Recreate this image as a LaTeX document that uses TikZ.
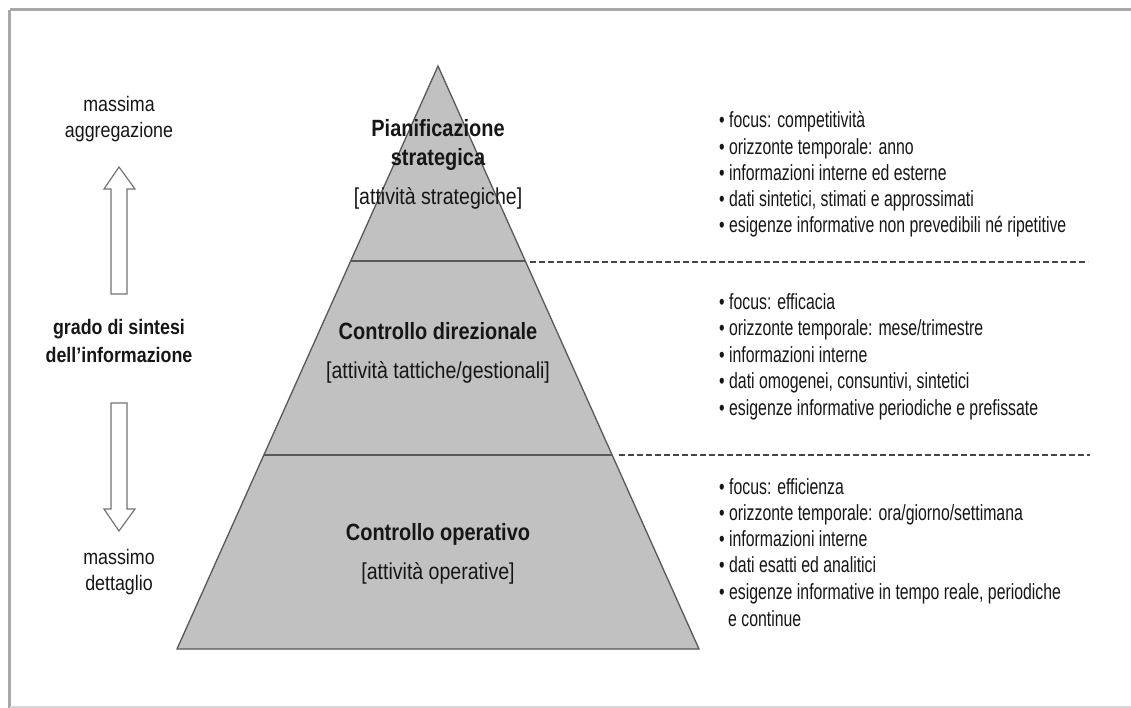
\documentclass[tikz,border=0pt]{standalone}
\usepackage{fontspec}
\setmainfont{Liberation Sans}
\newfontfamily\widefont{Liberation Sans}[FakeStretch=0.85]
\newfontfamily\narrowfont{Liberation Sans}[FakeStretch=0.72]
\definecolor{ink}{RGB}{22,22,22}
\definecolor{framegray}{RGB}{168,168,168}
\definecolor{pyrfill}{RGB}{193,193,193}
\definecolor{pyredge}{RGB}{88,88,88}
\definecolor{dashgray}{RGB}{70,70,70}
\definecolor{arrowedge}{RGB}{115,115,115}

\tikzset{
  levelhead/.style={anchor=base, inner sep=0pt, text=ink, font=\widefont\bfseries\fontsize{23.5}{27}\selectfont},
  levelsub/.style={anchor=base, inner sep=0pt, text=ink, font=\widefont\fontsize{23}{27}\selectfont},
  sidetext/.style={anchor=base, inner sep=0pt, text=ink, font=\widefont\fontsize{21}{25}\selectfont},
  sidebold/.style={sidetext, font=\widefont\bfseries\fontsize{21}{25}\selectfont},
  bulletline/.style={anchor=base west, inner sep=0pt, text=ink, font=\narrowfont\fontsize{22}{26}\selectfont},
  layer/.style={fill=pyrfill, draw=none},
  divider/.style={draw=pyredge, line width=2pt},
  outline/.style={draw=pyredge, line width=1.3pt, line join=miter},
  guide/.style={draw=dashgray, line width=1.1pt, dash pattern=on 6pt off 3pt},
  blockarrow/.style={draw=arrowedge, fill=white, line width=1.2pt, line join=miter},
}

\begin{document}
\begin{tikzpicture}[x=1pt, y=-1pt]
  \useasboundingbox (0,0) rectangle (1131,708);

  % page frame
  \draw[framegray, line width=3pt] (9.5,10) -- (1140,10);
  \draw[framegray, line width=2.2pt] (9.5,10) -- (9.5,710);
  \draw[framegray!45, line width=1.5pt] (9.5,707) -- (1140,707);

  % pyramid corners and level boundaries
  \coordinate (apex) at (438,66);
  \coordinate (baseL) at (177,649);
  \coordinate (baseR) at (699,649);
  \coordinate (divAL) at (350.7,261);
  \coordinate (divAR) at (525.3,261);
  \coordinate (divBL) at (263.8,455);
  \coordinate (divBR) at (612.2,455);

  \path[layer] (apex) -- (baseR) -- (baseL) -- cycle;
  \draw[divider] (divAL) -- (divAR);
  \draw[divider] (divBL) -- (divBR);
  \draw[outline] (apex) -- (baseR) -- (baseL) -- cycle;

  % dashed guides to the descriptions
  \coordinate (guideAs) at (530,262);
  \coordinate (guideAe) at (1088,262);
  \coordinate (guideBs) at (619,455);
  \coordinate (guideBe) at (1090,455);
  \draw[guide] (guideAs) -- (guideAe);
  \draw[guide] (guideBs) -- (guideBe);

  % level labels
  \node[levelhead] (topA) at (438,137) {Pianificazione};
  \node[levelhead] (topB) at (438,166) {strategica};
  \node[levelsub]  (topC) at (438,205) {[attività strategiche]};
  \node[levelhead] (midA) at (438,339) {Controllo direzionale};
  \node[levelsub]  (midB) at (438,378) {[attività tattiche/gestionali]};
  \node[levelhead] (lowA) at (438,540) {Controllo operativo};
  \node[levelsub]  (lowB) at (438,579) {[attività operative]};

  % left scale: block arrows and labels
  \draw[blockarrow] (119,167) -- (135,189) -- (127,189) -- (127,294)
                    -- (111,294) -- (111,189) -- (104,189) -- cycle;
  \draw[blockarrow] (119,531) -- (135,509) -- (127,509) -- (127,403)
                    -- (111,403) -- (111,509) -- (104,509) -- cycle;

  \node[sidetext] (maxA) at (119,112) {massima};
  \node[sidetext] (maxB) at (119,138) {aggregazione};
  \node[sidebold] (degA) at (119,334) {grado di sintesi};
  \node[sidebold] (degB) at (119,362) {dell’informazione};
  \node[sidetext] (minA) at (119,564) {massimo};
  \node[sidetext] (minB) at (119,590) {dettaglio};

  % descriptions: strategic level
  \node[bulletline] (sa) at (719,128)   {• focus: competitività};
  \node[bulletline] (sb) at (719,154.5) {• orizzonte temporale: anno};
  \node[bulletline] (sc) at (719,181)   {• informazioni interne ed esterne};
  \node[bulletline] (sd) at (719,207)   {• dati sintetici, stimati e approssimati};
  \node[bulletline] (se) at (719,233)   {• esigenze informative non prevedibili né ripetitive};

  % descriptions: tactical level
  \node[bulletline] (ta) at (719,309)   {• focus: efficacia};
  \node[bulletline] (tb) at (719,335.5) {• orizzonte temporale: mese/trimestre};
  \node[bulletline] (tc) at (719,362)   {• informazioni interne};
  \node[bulletline] (td) at (719,388.5) {• dati omogenei, consuntivi, sintetici};
  \node[bulletline] (te) at (719,415)   {• esigenze informative periodiche e prefissate};

  % descriptions: operational level
  \node[bulletline] (oa) at (719,494) {• focus: efficienza};
  \node[bulletline] (ob) at (719,520) {• orizzonte temporale: ora/giorno/settimana};
  \node[bulletline] (oc) at (719,546) {• informazioni interne};
  \node[bulletline] (od) at (719,572.5) {• dati esatti ed analitici};
  \node[bulletline] (oe) at (719,599) {• esigenze informative in tempo reale, periodiche};
  \node[bulletline] (of) at (728,626) {e continue};
\end{tikzpicture}
\end{document}
